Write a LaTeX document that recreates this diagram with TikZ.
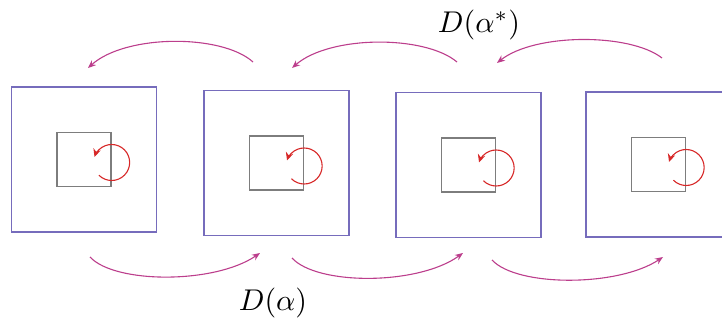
\documentclass[tikz,border=0pt]{standalone}
\usetikzlibrary{arrows.meta,calc}
\definecolor{outerc}{RGB}{118,108,188}
\definecolor{innerc}{RGB}{125,125,125}
\definecolor{rotc}{RGB}{215,40,40}
\definecolor{mapc}{RGB}{188,62,140}
\tikzset{
  outerbox/.style={draw=outerc, line width=1.6pt, minimum size=145pt, inner sep=0pt},
  innerbox/.style={draw=innerc, line width=1.3pt, minimum size=54pt, inner sep=0pt},
  rotarrow/.style={draw=rotc, line width=1.1pt, -{Stealth[length=8pt,width=7.5pt]}},
  maparrow/.style={draw=mapc, line width=1.1pt, -{Stealth[length=8pt,width=6.5pt]}},
  lbl/.style={scale=3.0, inner sep=0pt}
}
\begin{document}
\begin{tikzpicture}[x=1pt,y=1pt]
\useasboundingbox (0,0) rectangle (722,321);
% outer squares
\node[outerbox] (s1) at (84,161.5) {};
\node[outerbox] (s2) at (276.5,158) {};
\node[outerbox] (s3) at (468.5,156) {};
\node[outerbox] (s4) at (658.5,156.5) {};
% inner squares
\foreach \i in {1,2,3,4}{
  \node[innerbox] (i\i) at (s\i.center) {};
  \coordinate (c\i) at ([yshift=-3pt]i\i.east);
  \draw[rotarrow] ($(c\i)+(225:18pt)$) arc[start angle=225, end angle=522, radius=18pt];
}
% bottom arrows D(alpha)
\coordinate (b1s) at (90,64);
\coordinate (b1e) at (260,68);
\coordinate (b2s) at (292,63);
\coordinate (b2e) at (463,68);
\coordinate (b3s) at (492,61);
\coordinate (b3e) at (663,64);
\draw[maparrow] (b1s) .. controls (115,37) and (215,37) .. (b1e);
\draw[maparrow] (b2s) .. controls (317,35.5) and (418,35.5) .. (b2e);
\draw[maparrow] (b3s) .. controls (517,34) and (618,34) .. (b3e);
% top arrows D(alpha*)
\coordinate (t1s) at (253,259);
\coordinate (t1e) at (88,253);
\coordinate (t2s) at (457,259);
\coordinate (t2e) at (292,253);
\coordinate (t3s) at (662,263);
\coordinate (t3e) at (497,258);
\draw[maparrow] (t1s) .. controls (222,287) and (126,287) .. (t1e);
\draw[maparrow] (t2s) .. controls (425,286) and (330,286) .. (t2e);
\draw[maparrow] (t3s) .. controls (630,288) and (535,288) .. (t3e);
% labels
\node[lbl] (la) at (273,18.5) {$D(\alpha)$};
\node[lbl, anchor=north] (las) at (479,312) {$D(\alpha^*)$};
\end{tikzpicture}
\end{document}
